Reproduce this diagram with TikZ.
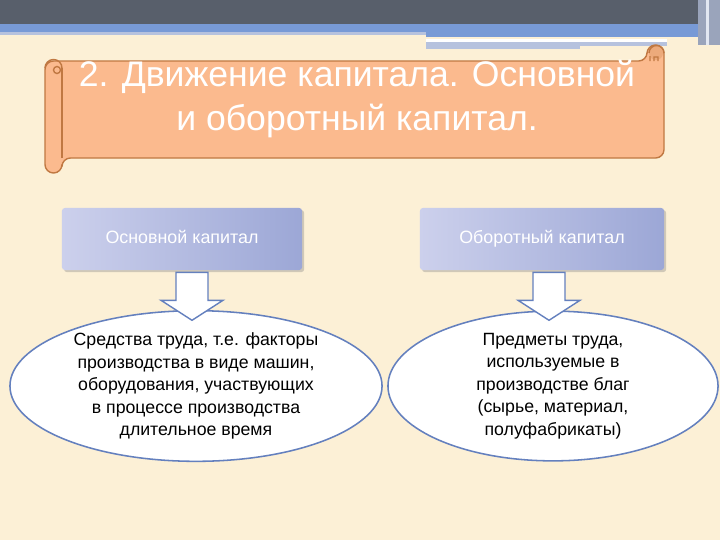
\documentclass[tikz,border=0pt]{standalone}
\usepackage{fontspec}
\setmainfont{Liberation Sans}
\usetikzlibrary{positioning}
\usetikzlibrary{shapes.geometric}
\usetikzlibrary{shadows}
\usetikzlibrary{calc}
\definecolor{paper}{RGB}{252,240,214}
\definecolor{slate}{RGB}{88,95,107}
\definecolor{stripe}{RGB}{120,154,214}
\definecolor{paleblue}{RGB}{182,194,222}
\definecolor{salmon}{RGB}{251,186,142}
\definecolor{rust}{RGB}{192,120,66}
\definecolor{lilac}{RGB}{204,208,236}
\definecolor{steel}{RGB}{156,167,214}
\definecolor{outline}{RGB}{100,128,190}

\begin{document}
\begin{tikzpicture}
			[
				x = 0.025cm, y = -0.025cm,
				title/.style = {align = center, text = white, font = \fontsize{25.3}{30.6}\selectfont},
				capbox/.style = {rectangle, minimum width = 6cm, minimum height = 1.55cm, rounded corners = 2pt, left color = lilac, right color = steel, text = white, text height = 9pt, text depth = 2.5pt, font = \fontsize{12.7}{15}\selectfont, drop shadow = {opacity = 0.35, shadow xshift = 1.5pt, shadow yshift = -1.5pt}},
				oval/.style = {ellipse, minimum height = 3.425cm, inner sep = 0pt, fill = white, draw = outline, line width = 1.1pt, align = center, font = \fontsize{12.6}{16}\selectfont},
				blockarrow/.style = {fill = white, draw = outline, line width = 1pt, line join = miter},
				scroll/.style = {fill = salmon, draw = rust, line width = 1pt, rounded corners = 6pt},
			]
			% background
			\fill[paper] (0,0) rectangle (720,540);
			\fill[slate] (0,0) rectangle (720,24);
			\fill[stripe] (0,24) rectangle (720,32);
			\fill[paleblue] (0,32) rectangle (426,35);
			\fill[stripe] (426,32) rectangle (698,37);
			\fill[white] (426,39) rectangle (667,42);
			\fill[paleblue] (426,42) rectangle (667,46);
			\fill[paleblue] (426,46) rectangle (580,49);
			\fill[paleblue!70!slate] (698,0) rectangle (720,45);
			\fill[white!60!paleblue] (706,0) rectangle (709,45);
			% scroll
			\draw[scroll] (45,61) -- (647,61) -- (647,45) -- (664,45) -- (664,158) -- (62,158) -- (62,173) -- (45,173) -- cycle;
			\draw[rust, line width = 1pt] (62,68) -- (62,158);
			\draw[rust, line width = 1pt] (62,68) arc[start angle = 0, end angle = -180, radius = 8.5]
				(57,70) circle[radius = 3.5];
			\fill[salmon!75!rust] (656,53) circle[radius = 7];
			\draw[rust, line width = 1pt] (649,53) arc[start angle = 180, end angle = 360, radius = 7.5]
				(650,61) -- (650,56) (654,61) -- (654,57) -- (658,57) -- (658,61);
			\node (heading) [title] at (357,99) {2. Движение капитала. Основной\\и оборотный капитал.};
			% boxes
			\node (fixed) [capbox] at (182,239) {Основной капитал};
			\node (working) [capbox, minimum width = 6.1cm] at (542,239) {Оборотный капитал};
			\node (fixedtext) [oval, minimum width = 9.3cm] at (196,386) {Средства труда, т.е. факторы\\производства в виде машин,\\оборудования, участвующих\\в процессе производства\\длительное время};
			\node (workingtext) [oval, minimum width = 8.25cm] at (553,386) {Предметы труда,\\используемые в\\производстве благ\\(сырье, материал,\\полуфабрикаты)};
			% arrows
			\draw[blockarrow] ([xshift = -0.15cm, yshift = -0.05cm]fixed.south) -- ++(0,28) -- ++(-15,0) -- ++(31,20) -- ++(31,-20) -- ++(-15,0) -- ++(0,-28) -- cycle;
			\draw[blockarrow] ([xshift = -0.225cm, yshift = -0.05cm]working.south) -- ++(0,28) -- ++(-15,0) -- ++(31,20) -- ++(31,-20) -- ++(-15,0) -- ++(0,-28) -- cycle;
		\end{tikzpicture}
\end{document}
